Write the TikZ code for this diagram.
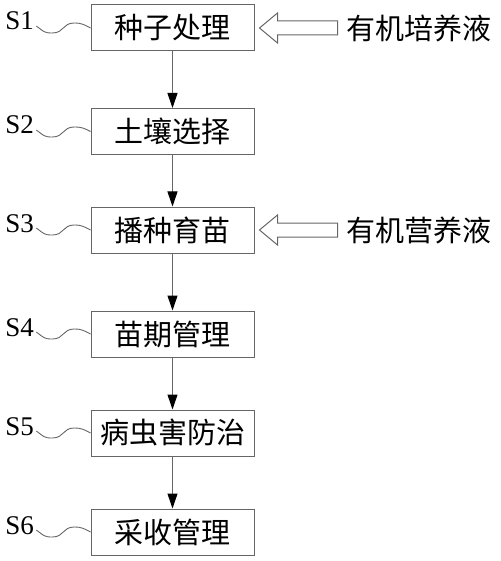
\documentclass[tikz,border=0pt]{standalone}
\usepackage{fontspec}
\setmainfont{Liberation Serif}
\newfontfamily\cjk{Noto Sans CJK SC}
\usetikzlibrary{arrows.meta}

\tikzset{
  stepbox/.style={draw=black!60, line width=0.5pt, minimum width=81.5pt, minimum height=23pt,
    inner sep=0pt, font=\cjk\fontsize{14.5pt}{16pt}\selectfont},
  steplbl/.style={inner sep=0pt, anchor=base west, font=\fontsize{13.5pt}{15pt}\selectfont},
  feedlbl/.style={inner sep=0pt, font=\cjk\fontsize{14.5pt}{16pt}\selectfont},
  flow/.style={draw=black!60, line width=0.5pt, -{Triangle[length=7.5pt,width=5pt,black]}},
  wave/.style={draw=black!60, line width=0.45pt},
  hollow/.style={draw=black!60, line width=0.5pt}
}

\begin{document}
\begin{tikzpicture}[x=0.5pt, y=-0.5pt]
  \useasboundingbox (0,0) rectangle (500,561);

  % Steps
  \node[stepbox] (s1) at (172.5,28) {种子处理};
  \node[stepbox] (s2) at (172.5,131.5) {土壤选择};
  \node[stepbox] (s3) at (172.5,230) {播种育苗};
  \node[stepbox] (s4) at (172.5,334) {苗期管理};
  \node[stepbox] (s5) at (172.5,433) {病虫害防治};
  \node[stepbox] (s6) at (172.5,532) {采收管理};

  % Step labels
  \node[steplbl] (l1) at (5,30) {S1};
  \node[steplbl] (l2) at (5,134) {S2};
  \node[steplbl] (l3) at (5,232) {S3};
  \node[steplbl] (l4) at (5,336) {S4};
  \node[steplbl] (l5) at (5,435) {S5};
  \node[steplbl] (l6) at (5,534) {S6};

  % Leader waves
  \draw[wave] (l1.base east) ++(2,-4) .. controls +(8,6) and +(-8,0) .. ++(16,7) .. controls +(12,0) and +(-12,0) .. ++(22,-10) .. controls +(8,0) and +(-6,-3) .. (s1.west);
  \draw[wave] (l2.base east) ++(2,-4) .. controls +(8,6) and +(-8,0) .. ++(16,7) .. controls +(12,0) and +(-12,0) .. ++(22,-10) .. controls +(8,0) and +(-6,-3) .. (s2.west);
  \draw[wave] (l3.base east) ++(2,-4) .. controls +(8,6) and +(-8,0) .. ++(16,7) .. controls +(12,0) and +(-12,0) .. ++(22,-10) .. controls +(8,0) and +(-6,-3) .. (s3.west);
  \draw[wave] (l4.base east) ++(2,-4) .. controls +(8,6) and +(-8,0) .. ++(16,7) .. controls +(12,0) and +(-12,0) .. ++(22,-10) .. controls +(8,0) and +(-6,-3) .. (s4.west);
  \draw[wave] (l5.base east) ++(2,-4) .. controls +(8,6) and +(-8,0) .. ++(16,7) .. controls +(12,0) and +(-12,0) .. ++(22,-10) .. controls +(8,0) and +(-6,-3) .. (s5.west);
  \draw[wave] (l6.base east) ++(2,-4) .. controls +(8,6) and +(-8,0) .. ++(16,7) .. controls +(12,0) and +(-12,0) .. ++(22,-10) .. controls +(8,0) and +(-6,-3) .. (s6.west);

  % Flow
  \draw[flow] (s1) -- (s2);
  \draw[flow] (s2) -- (s3);
  \draw[flow] (s3) -- (s4);
  \draw[flow] (s4) -- (s5);
  \draw[flow] (s5) -- (s6);

  % Inputs
  \node[feedlbl] (f1) at (419,28) {有机培养液};
  \node[feedlbl] (f3) at (419,230) {有机营养液};
  \draw[hollow] (s1.east) ++(5,0) -- ++(18,-15) -- ++(0,8) -- ++(60,0) -- ++(0,14) -- ++(-60,0) -- ++(0,8) -- cycle;
  \draw[hollow] (s3.east) ++(5,0) -- ++(18,-15) -- ++(0,8) -- ++(60,0) -- ++(0,14) -- ++(-60,0) -- ++(0,8) -- cycle;
\end{tikzpicture}
\end{document}
